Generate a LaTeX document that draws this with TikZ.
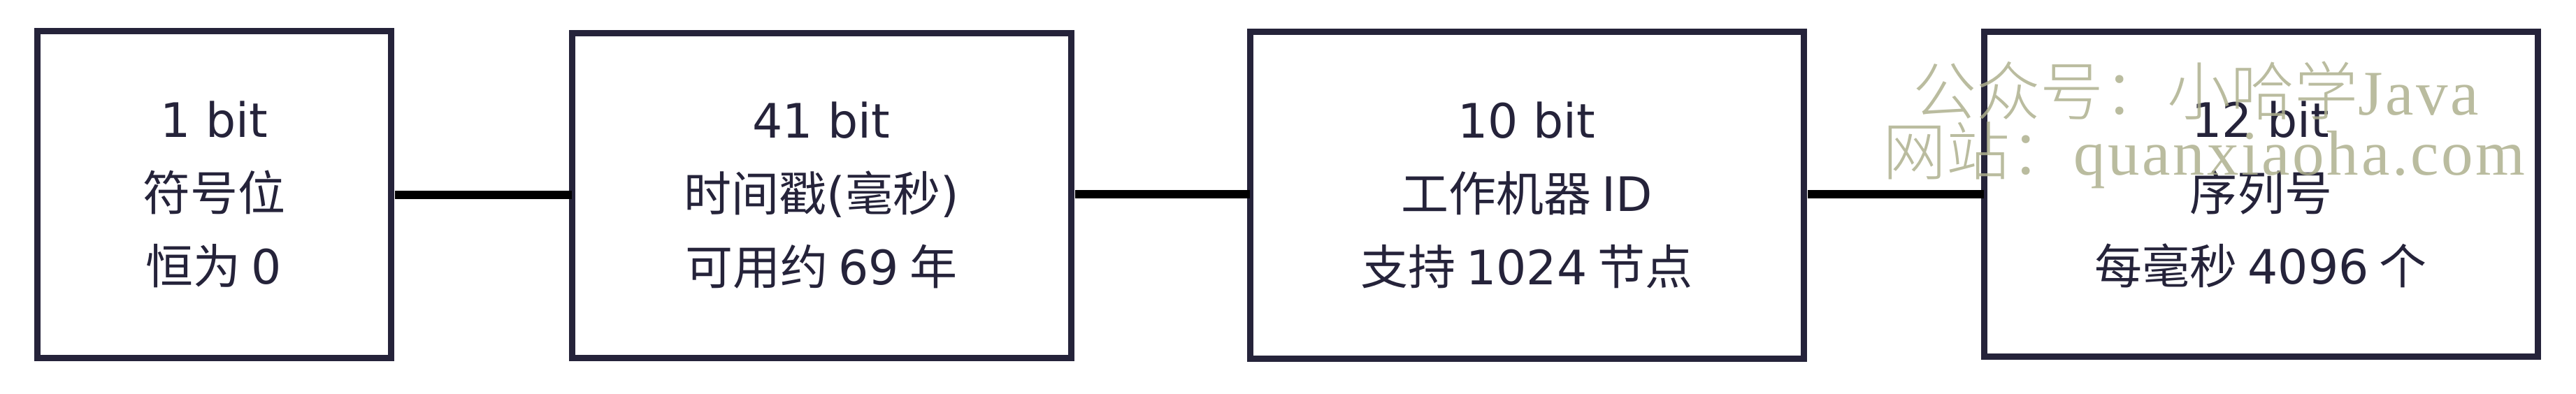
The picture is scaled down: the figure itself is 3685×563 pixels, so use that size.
\documentclass[tikz,border=0pt]{standalone}
\usepackage{fontspec}
\setmainfont{Noto Sans CJK SC}
\newfontfamily\lat{DejaVu Sans}
\newfontfamily\wmlat{Liberation Serif}[LetterSpace=4]
\newfontfamily\wmcjk{Noto Sans CJK SC Light}
\definecolor{ink}{HTML}{25233A}
\definecolor{wm}{HTML}{AEB08E}
\tikzset{
  field/.style={draw=ink, line width=9pt, inner sep=0pt, outer sep=0pt,
    text=ink, align=center, font=\fontsize{68}{105}\selectfont},
  link/.style={draw=black, line width=12pt},
  wmtext/.style={text=wm, opacity=0.85, inner sep=0pt, anchor=west,
    font=\fontsize{91}{91}\selectfont}
}
\begin{document}
\begin{tikzpicture}[x=1pt,y=-1pt]
\useasboundingbox (0,0) rectangle (3685,563);
\node[field, minimum width=506pt, minimum height=468pt] (b1) at (306,278)
  {{\lat 1 bit}\\符号位\\恒为 {\lat 0}};
\node[field, minimum width=714pt, minimum height=465pt] (b2) at (1175,280)
  {{\lat 41 bit}\\时间戳{\lat (}毫秒{\lat )}\\可用约 {\lat 69} 年};
\node[field, minimum width=792pt, minimum height=468pt] (b3) at (2184,279)
  {{\lat 10 bit}\\工作机器 {\lat ID}\\支持 {\lat 1024} 节点};
\node[field, minimum width=792pt, minimum height=465pt] (b4) at (3234,278)
  {{\lat 12 bit}\\序列号\\每毫秒 {\lat 4096} 个};
\draw[link] (b1.east |- 0,279) ++(6,0) -- (b2.west |- 0,279);
\draw[link] (b2.east |- 0,278) ++(6,0) -- (b3.west |- 0,278);
\draw[link] (b3.east |- 0,278) ++(6,0) -- (b4.west |- 0,278);
\node[wmtext] (w1) at (2736,130) {{\wmcjk 公众号：小哈学}{\wmlat Java}};
\node[wmtext] (w2) at (2693,222) {{\wmcjk 网站：}{\wmlat quanxiaoha.com}};
\end{tikzpicture}
\end{document}
